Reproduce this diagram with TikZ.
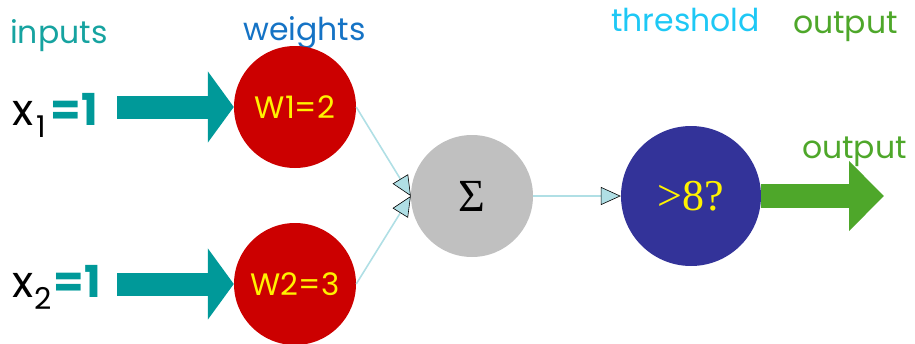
\documentclass[tikz,border=0pt]{standalone}
\usepackage{fontspec}
\setmainfont{Poppins}
\newfontfamily\numfont{Liberation Serif}
\usetikzlibrary{positioning,arrows.meta}

\definecolor{tealarr}{RGB}{0,153,153}
\definecolor{tealtxt}{RGB}{22,163,160}
\definecolor{wblue}{RGB}{21,115,197}
\definecolor{thrcyan}{RGB}{30,200,245}
\definecolor{outgreen}{RGB}{78,167,42}
\definecolor{wred}{RGB}{204,0,0}
\definecolor{sumgray}{RGB}{192,192,192}
\definecolor{thrblue}{RGB}{51,51,153}
\definecolor{linkblue}{RGB}{176,223,229}

\begin{document}
\begin{tikzpicture}[
  x=1pt, y=-1pt,
  weight/.style={circle,fill=wred,minimum size=122pt,inner sep=0pt,
                 text=yellow,font=\fontsize{31}{31}\selectfont},
  adder/.style={circle,fill=sumgray,minimum size=122pt,inner sep=0pt,
                font=\numfont\fontsize{46}{46}\selectfont},
  thresh/.style={circle,fill=thrblue,minimum size=140pt,inner sep=0pt,
                 text=yellow,font=\numfont\fontsize{44}{44}\selectfont},
  head/.style={anchor=base west,inner sep=0pt,font=\fontsize{31.5}{31.5}\selectfont},
  inval/.style={anchor=base west,inner sep=0pt},
  blk/.style={line width=23pt,tealarr,-{Triangle[length=26pt,width=70pt]}},
  outblk/.style={line width=24pt,outgreen,-{Triangle[length=35pt,width=68pt]}},
  link/.style={line width=1.6pt,linkblue,
               -{Triangle[length=20pt,width=18pt,color=black,fill=linkblue,line width=0.6pt]}}
]
\useasboundingbox (0,0) rectangle (915,343);

%% ================= headings =================
\node[head,text=tealtxt]  (hin)  at ( 10, 43) {inputs};
\node[head,text=wblue]    (hw)   at (243, 40) {weights};
\node[head,text=thrcyan]  (hthr) at (611, 31) {threshold};
\node[head,text=outgreen] (hout) at (793, 33) {output};

%% ================= inputs =================
\node[inval] (x1) at (12,125) {{\fontsize{44}{44}\selectfont x}\hspace{3pt}\raisebox{-12pt}{\fontsize{30}{30}\selectfont 1}\hspace{5pt}{\color{tealarr}\bfseries\fontsize{44}{44}\selectfont =1}};
\node[inval] (x2) at (12,297) {{\fontsize{44}{44}\selectfont x}\hspace{1pt}\raisebox{-12pt}{\fontsize{30}{30}\selectfont 2}\hspace{2pt}{\color{tealarr}\bfseries\fontsize{44}{44}\selectfont =1}};
\coordinate (a1) at (117,107);
\coordinate (a2) at (117,284);

%% ================= neuron =================
\node[weight] (w1)  at (295,107) {W1=2};
\node[weight] (w2)  at (295,284) {W2=3};
\node[adder]  (sum) at (472,196) {Σ};
\node[thresh] (thr) at (691,196) {>8?};

\draw[blk] (a1) -- (w1.west);
\draw[blk] (a2) -- (w2.west);
\foreach \a/\b in {w1.east/sum.west, w2.east/sum.west, sum.east/thr.west}
  \draw[link] (\a) -- (\b);

%% ================= output =================
\coordinate (o) at (884,196);
\draw[outblk] (thr.east) -- (o);
\node[head,text=outgreen] (hout2) at (802,158) {output};

\end{tikzpicture}
\end{document}
